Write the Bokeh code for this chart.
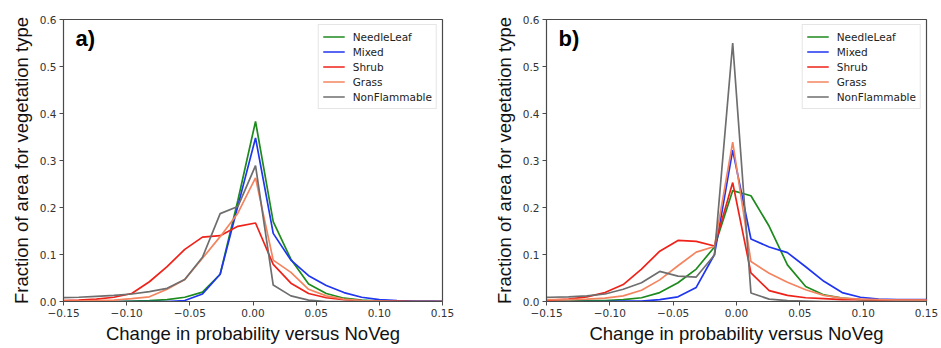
from bokeh.plotting import figure
from bokeh.layouts import row
from bokeh.models import FixedTicker, CustomJSTickFormatter, Label, Range1d
from bokeh.embed import file_html
from bokeh.resources import INLINE

# ---------------- data ----------------
series_names = ["NeedleLeaf", "Mixed", "Shrub", "Grass", "NonFlammable"]
series_colors = ["#1d8a1d", "#1f35f0", "#ee2219", "#f4845f", "#6e6e6e"]

xa = [-0.152, -0.138, -0.124, -0.110, -0.096, -0.082, -0.068, -0.054, -0.040, -0.026, -0.012,
      0.002, 0.016, 0.030, 0.044, 0.058, 0.072, 0.086, 0.100, 0.114, 0.128, 0.142, 0.156]
a_needleleaf = [0, 0, 0, 0, 0.001, 0.002, 0.004, 0.009, 0.020, 0.058, 0.215,
                0.383, 0.170, 0.090, 0.037, 0.017, 0.007, 0.003, 0.001, 0, 0, 0, 0]
a_mixed = [0, 0, 0, 0, 0, 0, 0, 0.002, 0.016, 0.058, 0.203,
           0.348, 0.145, 0.088, 0.055, 0.034, 0.019, 0.009, 0.004, 0.002, 0.001, 0.001, 0]
a_shrub = [0.002, 0.003, 0.005, 0.009, 0.017, 0.042, 0.074, 0.111, 0.137, 0.140, 0.160,
           0.167, 0.079, 0.039, 0.017, 0.008, 0.004, 0.002, 0.001, 0.001, 0, 0, 0]
a_grass = [0.001, 0.001, 0.002, 0.003, 0.006, 0.010, 0.026, 0.047, 0.092, 0.138, 0.188,
           0.263, 0.088, 0.062, 0.026, 0.012, 0.005, 0.002, 0.001, 0, 0, 0, 0]
a_nonflam = [0.008, 0.009, 0.011, 0.013, 0.016, 0.021, 0.028, 0.047, 0.094, 0.187, 0.202,
             0.289, 0.035, 0.012, 0.003, 0, 0, 0, 0, 0, 0, 0, 0]

xb = [-0.1614, -0.147, -0.1326, -0.1182, -0.1038, -0.0894, -0.075, -0.0606, -0.0462, -0.0318, -0.0174,
      -0.003, 0.0114, 0.0258, 0.0402, 0.0546, 0.069, 0.0834, 0.0978, 0.1122, 0.1266, 0.141, 0.1554]
b_needleleaf = [0.001, 0.001, 0.001, 0.002, 0.002, 0.004, 0.008, 0.019, 0.040, 0.069, 0.116,
                0.236, 0.225, 0.160, 0.078, 0.032, 0.014, 0.007, 0.004, 0.003, 0.003, 0.003, 0.003]
b_mixed = [0, 0, 0, 0, 0, 0.001, 0.001, 0.004, 0.010, 0.030, 0.100,
           0.322, 0.133, 0.116, 0.104, 0.074, 0.043, 0.019, 0.009, 0.005, 0.004, 0.004, 0.004]
b_shrub = [0.002, 0.003, 0.005, 0.010, 0.019, 0.036, 0.069, 0.107, 0.130, 0.128, 0.118,
           0.253, 0.061, 0.023, 0.013, 0.008, 0.006, 0.004, 0.004, 0.003, 0.003, 0.003, 0.003]
b_grass = [0.003, 0.004, 0.004, 0.005, 0.007, 0.012, 0.024, 0.046, 0.076, 0.105, 0.117,
           0.339, 0.085, 0.060, 0.041, 0.025, 0.013, 0.007, 0.005, 0.004, 0.003, 0.003, 0.003]
b_nonflam = [0.008, 0.009, 0.010, 0.012, 0.016, 0.026, 0.040, 0.064, 0.054, 0.052, 0.099,
             0.550, 0.018, 0.005, 0.002, 0.001, 0, 0, 0, 0, 0, 0, 0]

x_ticks = [-0.15, -0.10, -0.05, 0.0, 0.05, 0.10, 0.15]
y_ticks = [0.0, 0.1, 0.2, 0.3, 0.4, 0.5, 0.6]
x_label = "Change in probability versus NoVeg"
y_label = "Fraction of area for vegetation type"
panel_tags = ["a)", "b)"]

TICK_FONT = "DejaVu Sans"
LABEL_FONT = "Liberation Sans"
AX_COLOR = "#4a4a4a"


def make_panel(xs, ys_list, tag, width, border_left, border_right):
    p = figure(width=width, height=348, output_backend="svg", toolbar_location=None,
               x_range=Range1d(-0.15, 0.15), y_range=Range1d(0.0, 0.6),
               min_border_left=border_left, min_border_right=border_right,
               min_border_top=19, min_border_bottom=47)
    p.background_fill_color = "white"
    p.border_fill_color = "white"
    p.outline_line_color = AX_COLOR
    p.outline_line_width = 1.2
    p.xgrid.visible = False
    p.ygrid.visible = False

    for ys, name, color in zip(ys_list, series_names, series_colors):
        p.line(xs, ys, line_color=color, line_width=1.7, legend_label=name)

    for ax in (p.xaxis[0], p.yaxis[0]):
        ax.axis_line_color = AX_COLOR
        ax.major_tick_line_color = AX_COLOR
        ax.major_tick_in = 0
        ax.major_tick_out = 4
        ax.minor_tick_line_color = None
        ax.major_label_text_font = TICK_FONT
        ax.major_label_text_font_size = "10.5px"
        ax.major_label_text_color = "#333333"
        ax.major_label_standoff = 3
        ax.axis_label_text_font = LABEL_FONT
        ax.axis_label_text_font_size = "18.5px"
        ax.axis_label_text_font_style = "normal"
        ax.axis_label_text_color = "#111111"

    p.xaxis[0].ticker = FixedTicker(ticks=x_ticks)
    p.yaxis[0].ticker = FixedTicker(ticks=y_ticks)
    p.xaxis[0].formatter = CustomJSTickFormatter(
        code="return (tick < -1e-9 ? '\u2212' : '') + Math.abs(tick).toFixed(2);")
    p.yaxis[0].formatter = CustomJSTickFormatter(
        code="return Math.abs(tick).toFixed(1);")
    p.xaxis[0].axis_label = x_label
    p.yaxis[0].axis_label = y_label
    p.xaxis[0].axis_label_standoff = 3
    p.yaxis[0].axis_label_standoff = 5

    lg = p.legend[0]
    lg.location = "top_right"
    lg.margin = 5
    lg.padding = 4
    lg.spacing = 0
    lg.label_height = 15
    lg.glyph_height = 15
    lg.glyph_width = 22
    lg.label_standoff = 8
    lg.label_text_font = TICK_FONT
    lg.label_text_font_size = "10.5px"
    lg.label_text_color = "#222222"
    lg.border_line_color = "#cccccc"
    lg.border_line_width = 1
    lg.background_fill_alpha = 0.9

    p.add_layout(Label(x=-0.1405, y=0.586, text=tag, text_font=LABEL_FONT,
                       text_font_style="bold", text_font_size="22px",
                       text_baseline="top", text_color="black"))
    return p


pa = make_panel(xa, [a_needleleaf, a_mixed, a_shrub, a_grass, a_nonflam], panel_tags[0], 480, 63, 38)
pb = make_panel(xb, [b_needleleaf, b_mixed, b_shrub, b_grass, b_nonflam], panel_tags[1], 461, 66, 15)

layout = row(pa, pb)
open("out.html", "w").write(file_html(layout, INLINE))
